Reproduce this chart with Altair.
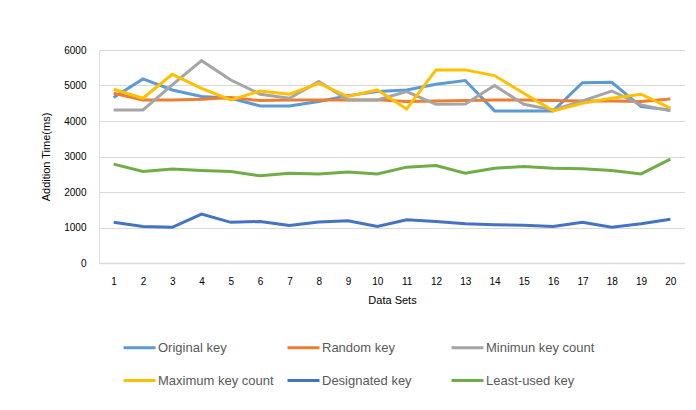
import altair as alt
import pandas as pd

data_sets = list(range(1, 21))
series_names = ["Original key", "Random key", "Minimun key count",
                "Maximum key count", "Designated key", "Least-used key"]
colors = ["#5B9BD5", "#ED7D31", "#A5A5A5", "#FFC000", "#4472C4", "#70AD47"]

original_key = [4660, 5185, 4875, 4690, 4640, 4425, 4425, 4550, 4715, 4830,
                4875, 5035, 5140, 4285, 4285, 4285, 5080, 5090, 4405, 4310]
random_key = [4780, 4595, 4595, 4610, 4660, 4575, 4595, 4595, 4595, 4595,
              4550, 4565, 4575, 4595, 4595, 4575, 4565, 4565, 4550, 4620]
minimum_key_count = [4310, 4310, 5015, 5700, 5155, 4755, 4640, 5110, 4595, 4595,
                     4830, 4470, 4480, 5000, 4470, 4310, 4565, 4845, 4455, 4285]
maximum_key_count = [4895, 4640, 5315, 4920, 4595, 4845, 4755, 5060, 4690, 4875,
                     4340, 5440, 5440, 5280, 4780, 4285, 4500, 4640, 4755, 4360]
designated_key = [1145, 1030, 1005, 1380, 1145, 1170, 1060, 1155, 1190, 1030,
                  1220, 1170, 1105, 1080, 1060, 1030, 1145, 1010, 1105, 1235]
least_used_key = [2785, 2580, 2645, 2605, 2580, 2455, 2530, 2505, 2560, 2505,
                  2700, 2745, 2530, 2670, 2720, 2670, 2655, 2605, 2510, 2925]

all_series = [original_key, random_key, minimum_key_count,
              maximum_key_count, designated_key, least_used_key]

rows = []
for name, vals in zip(series_names, all_series):
    for ds, v in zip(data_sets, vals):
        rows.append({"Data Sets": ds, "Series": name, "Time": v})
df = pd.DataFrame(rows)

font = "Liberation Sans"
text_color = "#595959"

chart = alt.Chart(df).mark_line(strokeWidth=3).encode(
    x=alt.X("Data Sets:O", title="Data Sets",
            axis=alt.Axis(labelAngle=0, grid=False, ticks=False, domain=True,
                          domainColor="#D9D9D9", domainWidth=1.5,
                          labelPadding=13, titlePadding=8,
                          titleFontWeight="normal")),
    y=alt.Y("Time:Q", title="Addition Time(ms)",
            scale=alt.Scale(domain=[0, 6000]),
            axis=alt.Axis(values=[0, 1000, 2000, 3000, 4000, 5000, 6000],
                          format="d",
                          domain=False, ticks=False, gridColor="#D9D9D9",
                          labelPadding=13, titlePadding=12,
                          titleFontWeight="normal")),
    color=alt.Color("Series:N",
                    scale=alt.Scale(domain=series_names, range=colors),
                    sort=series_names,
                    legend=alt.Legend(title=None, orient="none", legendX=23, legendY=280,
                                      columns=3, direction="horizontal",
                                      symbolType="stroke", symbolSize=1024,
                                      symbolStrokeWidth=3, labelOffset=1,
                                      gridAlign="all", columnPadding=7,
                                      rowPadding=8, labelFontSize=13,
                                      labelColor=text_color, labelFont=font)),
    order=alt.Order("Data Sets:O"),
).properties(
    width=586, height=213,
    autosize=alt.AutoSizeParams(type="none"),
    padding={"left": 91, "top": 42, "right": 0, "bottom": 139},
).configure_axis(
    labelFont=font, titleFont=font, labelFontSize=13, titleFontSize=13,
    labelColor=text_color, titleColor=text_color,
    gridWidth=1.5,
).configure_view(stroke=None).configure(background="white")

chart.save("out.html", embed_options={"renderer": "svg", "actions": False})
